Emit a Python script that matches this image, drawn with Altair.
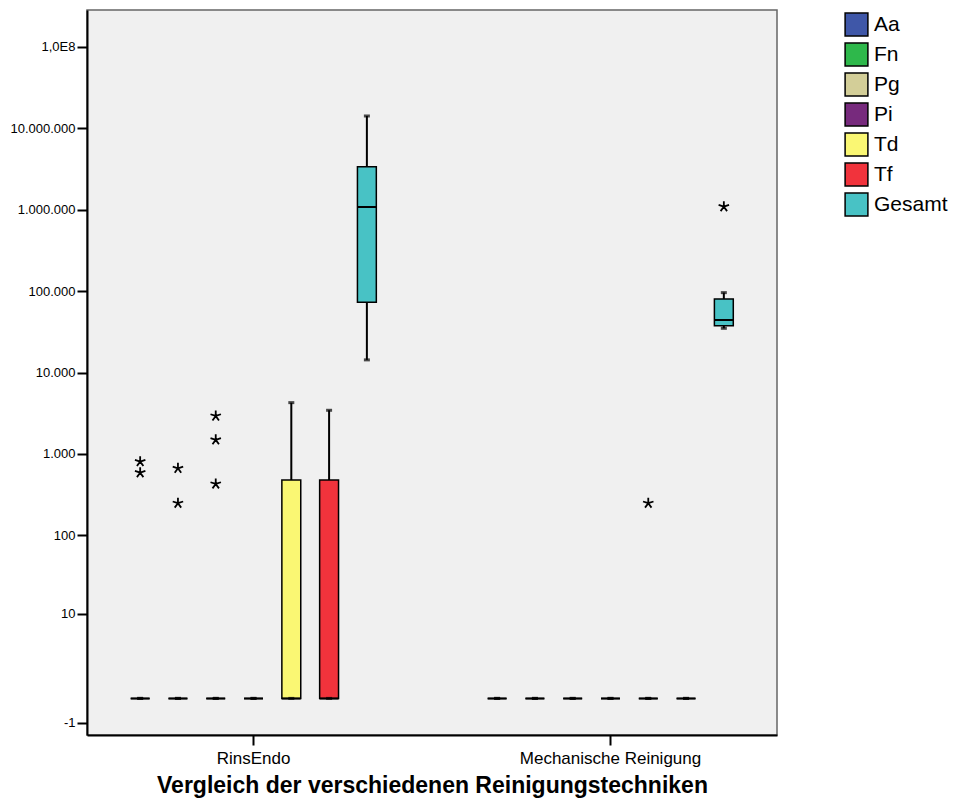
import altair as alt
import pandas as pd

# ---- data ----
groups = ["RinsEndo", "Mechanische Reinigung"]
series = ["Aa", "Fn", "Pg", "Pi", "Td", "Tf", "Gesamt"]
colors = ["#3F57A8", "#2EB84B", "#D3CE98", "#772A7D", "#FAF773", "#F1333C", "#48C2C5"]

# box statistics per group (order as in `series`)
rins_lo  = [0, 0, 0, 0, 0, 0, 14300]
rins_q1  = [0, 0, 0, 0, 0, 0, 72800]
rins_med = [0, 0, 0, 0, 0, 0, 1077000]
rins_q3  = [0, 0, 0, 0, 479, 479, 3370000]
rins_hi  = [0, 0, 0, 0, 4270, 3440, 14100000]

mech_lo  = [0, 0, 0, 0, 0, 0, 34900]
mech_q1  = [0, 0, 0, 0, 0, 0, 37600]
mech_med = [0, 0, 0, 0, 0, 0, 44200]
mech_q3  = [0, 0, 0, 0, 0, 0, 80200]
mech_hi  = [0, 0, 0, 0, 0, 0, 95700]

# extreme values (asterisks)
out_group  = ["RinsEndo", "RinsEndo", "RinsEndo", "RinsEndo", "RinsEndo", "RinsEndo", "RinsEndo",
              "Mechanische Reinigung", "Mechanische Reinigung"]
out_series = ["Aa", "Aa", "Fn", "Fn", "Pg", "Pg", "Pg", "Td", "Gesamt"]
out_value  = [805, 589, 667, 248, 2930, 1490, 428, 248, 1087000]

tick_values = [-1, 10, 100, 1000, 10000, 100000, 1000000, 10000000, 100000000]
tick_labels = ["-1", "10", "100", "1.000", "10.000", "100.000", "1.000.000", "10.000.000", "1,0E8"]

title_x = "Vergleich der verschiedenen Reinigungstechniken"

# ---- tables ----
rows = []
for g, lo, q1, md, q3, hi in [
    (groups[0], rins_lo, rins_q1, rins_med, rins_q3, rins_hi),
    (groups[1], mech_lo, mech_q1, mech_med, mech_q3, mech_hi),
]:
    for i, s in enumerate(series):
        rows.append(dict(group=g, series=s, lo=lo[i], q1=q1[i], med=md[i], q3=q3[i], hi=hi[i]))
boxes = pd.DataFrame(rows)
outl = pd.DataFrame(dict(group=out_group, series=out_series, value=out_value))

FONT = "Liberation Sans"

label_expr = " : ".join(
    f"datum.value == {v} ? '{l}'" for v, l in zip(tick_values, tick_labels)
) + " : ''"

yscale = alt.Scale(type="symlog", constant=1, domain=[-1.814, 2.82e8], nice=False, zero=False)
xenc = alt.X(
    "group:N",
    sort=groups,
    scale=alt.Scale(paddingInner=0.259, paddingOuter=0.096),
    axis=alt.Axis(
        title=title_x,
        labelFont=FONT, labelFontSize=17, labelColor="black", labelPadding=5,
        labelLimit=400,
        tickSize=10, tickWidth=2, tickColor="black",
        domainColor="black", domainWidth=2,
        titleFont=FONT, titleFontSize=23, titleFontWeight="bold", titleColor="black",
        titleY=57, titleBaseline="alphabetic", labelAngle=0,
    ),
)
xoff = alt.XOffset("series:N", sort=series, scale=alt.Scale(paddingInner=0.5, paddingOuter=0.25))

base = alt.Chart(boxes).encode(x=xenc, xOffset=xoff)

yaxis = alt.Axis(
    title=None, values=tick_values, labelExpr=label_expr,
    labelFont=FONT, labelFontSize=13, labelColor="black", labelPadding=2,
    tickSize=10, tickWidth=2, tickColor="black",
    domainColor="black", domainWidth=2, grid=False,
)

whisker = base.mark_rule(color="black", strokeWidth=2).encode(
    y=alt.Y("lo:Q", scale=yscale, axis=yaxis), y2="hi:Q"
)

box = base.mark_bar(stroke="black", strokeWidth=1.5).encode(
    y=alt.Y("q1:Q", scale=yscale), y2="q3:Q",
    color=alt.Color(
        "series:N", sort=series,
        scale=alt.Scale(domain=series, range=colors),
        legend=alt.Legend(
            title=None, orient="none", legendX=757, legendY=2,
            symbolType="square", symbolSize=520, symbolStrokeColor="black",
            symbolStrokeWidth=1.5, symbolOpacity=1,
            labelFont=FONT, labelFontSize=21, labelColor="black",
            labelOffset=5, rowPadding=1, padding=0, labelLimit=200,
        ),
    ),
)

median = base.mark_bar(fillOpacity=0, stroke="black", strokeWidth=2).encode(
    y=alt.Y("med:Q", scale=yscale), y2="med:Q"
)

cap_lo = base.mark_tick(color="black", size=6, thickness=3, orient="horizontal").encode(
    y=alt.Y("lo:Q", scale=yscale)
)
cap_hi = base.mark_tick(color="black", size=6, thickness=3, orient="horizontal").encode(
    y=alt.Y("hi:Q", scale=yscale)
)

star_path = ("M0,0L0,-1M0,0L0.951,-0.309M0,0L0.588,0.809"
             "M0,0L-0.588,0.809M0,0L-0.951,-0.309")
stars = alt.Chart(outl).mark_point(
    shape=star_path, filled=False, stroke="black", strokeWidth=1.8, size=121, opacity=1
).encode(
    x=alt.X("group:N", sort=groups),
    xOffset=alt.XOffset("series:N", sort=series),
    y=alt.Y("value:Q", scale=yscale),
)

chart = alt.layer(whisker, box, median, cap_lo, cap_hi, stars).properties(
    width=690, height=725,
    autosize=alt.AutoSizeParams(type="none"),
    padding={"left": 79, "top": 2, "right": 173, "bottom": 63},
    background="white",
).configure_view(
    fill="#F0F0F0", stroke="#666666", strokeWidth=1.5
)

chart.save("out.html", embed_options={"renderer": "svg", "actions": False})
